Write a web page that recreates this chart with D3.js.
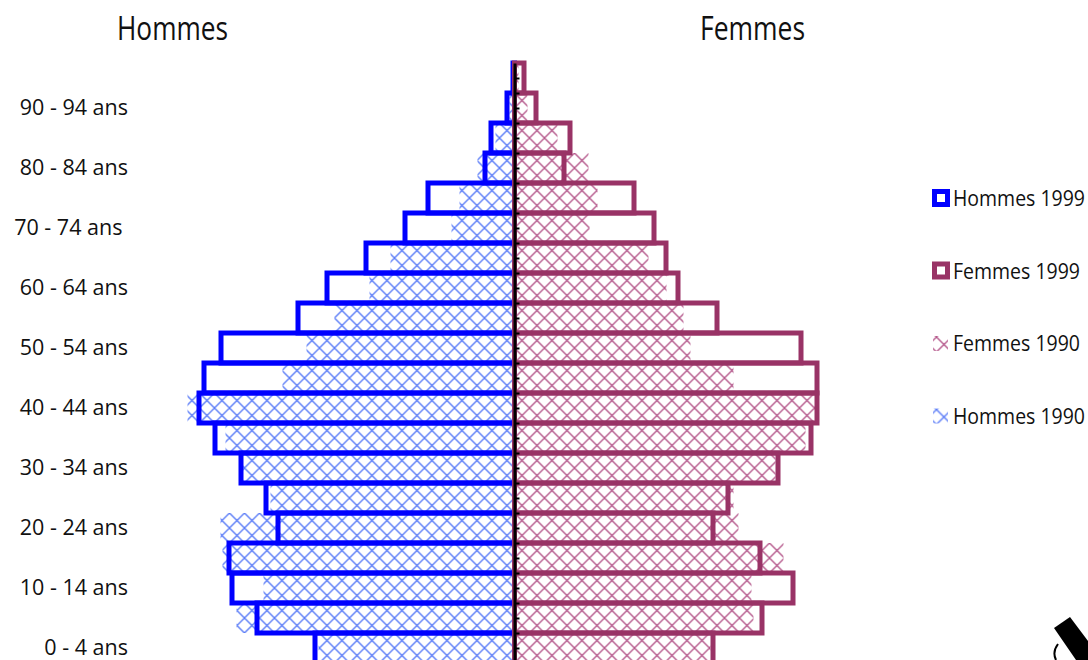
<!DOCTYPE html>
<html>
<head>
<meta charset="utf-8">
<script src="https://cdn.jsdelivr.net/npm/d3@7"></script>
<style>
  body { margin: 0; background: #fff; }
  svg { display: block; }
  .age text { white-space: pre; }
</style>
</head>
<body>
<svg id="chart" width="1088" height="660"></svg>
<script>
// groupes d'age, du bas vers le haut
const ages = ["0 - 4 ans", "5 - 9 ans", "10 - 14 ans", "15 - 19 ans", "20 - 24 ans",
  "25 - 29 ans", "30 - 34 ans", "35 - 39 ans", "40 - 44 ans", "45 - 49 ans",
  "50 - 54 ans", "55 - 59 ans", "60 - 64 ans", "65 - 69 ans", "70 - 74 ans ",
  "75 - 79 ans", "80 - 84 ans", "85 - 89 ans", "90 - 94 ans", "95 ans et +"];

const hommes1999 = [202, 260, 285, 288, 239, 251, 276, 302, 318, 313, 296, 219, 190, 151, 112, 89, 32, 26, 10, 4];
const hommes1990 = [196, 278, 251, 292, 294, 244, 272, 289, 327, 232, 208, 180, 145, 124, 63, 55, 37, 19, 5, 0];
const femmes1999 = [201, 250, 281, 248, 201, 216, 266, 299, 305, 305, 289, 205, 166, 154, 142, 122, 52, 58, 24, 12];
const femmes1990 = [196, 239, 237, 269, 224, 219, 261, 291, 301, 219, 176, 169, 152, 134, 75, 83, 74, 43, 13, 4];

const titles = ["Hommes", "Femmes"];
const legend = [
  {name: "Hommes 1999", kind: "outline", color: "#0000ff"},
  {name: "Femmes 1999", kind: "outline", color: "#993366"},
  {name: "Femmes 1990", kind: "hatch", color: "f"},
  {name: "Hommes 1990", kind: "hatch", color: "h"}
];

const svg = d3.select("#chart");
const cx = 514.5;
const font = "'Open Sans', 'Liberation Sans', sans-serif";

const y = d3.scaleBand().domain(ages).range([663, 63]).padding(0);
const yLin = d3.scaleLinear().domain([0, ages.length]).range([663, 63]);
const xL = d3.scaleLinear().domain([0, 350]).range([cx, cx - 350]);
const xR = d3.scaleLinear().domain([0, 350]).range([cx, cx + 350]);

// motifs hachures
const defs = svg.append("defs");
function hatch(id, color) {
  const p = defs.append("pattern").attr("id", id)
    .attr("patternUnits", "userSpaceOnUse").attr("width", 15).attr("height", 15)
    .attr("x", cx).attr("y", 63);
  p.append("path").attr("d", "M-1,-1L16,16M16,-1L-1,16")
    .attr("stroke", color).attr("stroke-width", 1.4).attr("fill", "none");
}
hatch("h", "#5b7cf7");
hatch("f", "#b5598c");

// 1990 : barres hachurees
svg.append("g").selectAll("rect").data(hommes1990).join("rect")
  .attr("x", d => xL(d)).attr("width", d => cx - xL(d))
  .attr("y", (d, i) => y(ages[i])).attr("height", y.bandwidth())
  .attr("fill", "url(#h)");

svg.append("g").selectAll("rect").data(femmes1990).join("rect")
  .attr("x", cx).attr("width", d => xR(d) - cx)
  .attr("y", (d, i) => y(ages[i])).attr("height", y.bandwidth())
  .attr("fill", "url(#f)");

// 1999 : contours
svg.append("g").selectAll("rect").data(hommes1999).join("rect")
  .attr("x", d => xL(d) + 2.5).attr("width", d => Math.max(0, cx - xL(d) - 2.5))
  .attr("y", (d, i) => y(ages[i])).attr("height", y.bandwidth())
  .attr("fill", "none").attr("stroke", "#0000ff").attr("stroke-width", 5);

svg.append("g").selectAll("rect").data(femmes1999).join("rect")
  .attr("x", cx).attr("width", d => Math.max(0, xR(d) - cx - 2.5))
  .attr("y", (d, i) => y(ages[i])).attr("height", y.bandwidth())
  .attr("fill", "none").attr("stroke", "#993366").attr("stroke-width", 5);

// axe central
const mid = svg.append("g").attr("transform", `translate(${cx},0)`)
  .call(d3.axisRight(yLin).tickValues(d3.range(0.5, ages.length, 0.5))
    .tickSize(5).tickSizeOuter(0).tickFormat(""));
mid.select(".domain").attr("stroke", "#000").attr("stroke-width", 3);
mid.selectAll(".tick line").attr("stroke", "#000").attr("stroke-width", 2);

// etiquettes d'age
const ageAxis = svg.append("g").attr("class", "age").attr("transform", "translate(128,0)")
  .call(d3.axisLeft(y).tickValues(ages.filter((d, i) => i % 2 === 0)).tickSize(0).tickPadding(0));
ageAxis.select(".domain").remove();
ageAxis.selectAll("text")
  .attr("font-family", font).attr("font-size", 21.5).attr("fill", "#111");

// titres
svg.selectAll(".title").data(titles).join("text")
  .attr("x", (d, i) => i === 0 ? 117 : 700).attr("y", 40)
  .attr("font-family", font).attr("font-size", 32).attr("fill", "#111")
  .attr("textLength", (d, i) => i === 0 ? 111 : 105)
  .attr("lengthAdjust", "spacingAndGlyphs")
  .text(d => d);

// legende
const lg = svg.append("g").selectAll("g").data(legend).join("g")
  .attr("transform", (d, i) => `translate(932,${189 + i * 72.5})`);
lg.filter(d => d.kind === "outline").append("rect")
  .attr("x", 2.5).attr("y", 2.5).attr("width", 13).attr("height", 13)
  .attr("fill", "#fff").attr("stroke", d => d.color).attr("stroke-width", 5);
lg.filter(d => d.kind === "hatch").append("rect")
  .attr("x", 1).attr("y", 2).attr("width", 15).attr("height", 15)
  .attr("fill", d => `url(#${d.color})`);
lg.append("text").attr("x", 21).attr("y", 17)
  .attr("font-family", font).attr("font-size", 22).attr("fill", "#111")
  .attr("textLength", d => d.name.startsWith("H") ? 132 : 127)
  .attr("lengthAdjust", "spacingAndGlyphs")
  .text(d => d.name);

// fragment de logo en bas a droite
svg.append("path")
  .attr("d", "M1054,628L1070,617L1088,641L1088,660L1076,660Z")
  .attr("fill", "#000");
svg.append("path")
  .attr("d", "M1058,644Q1052,652 1056,660")
  .attr("fill", "none").attr("stroke", "#000").attr("stroke-width", 2);
</script>
</body>
</html>
